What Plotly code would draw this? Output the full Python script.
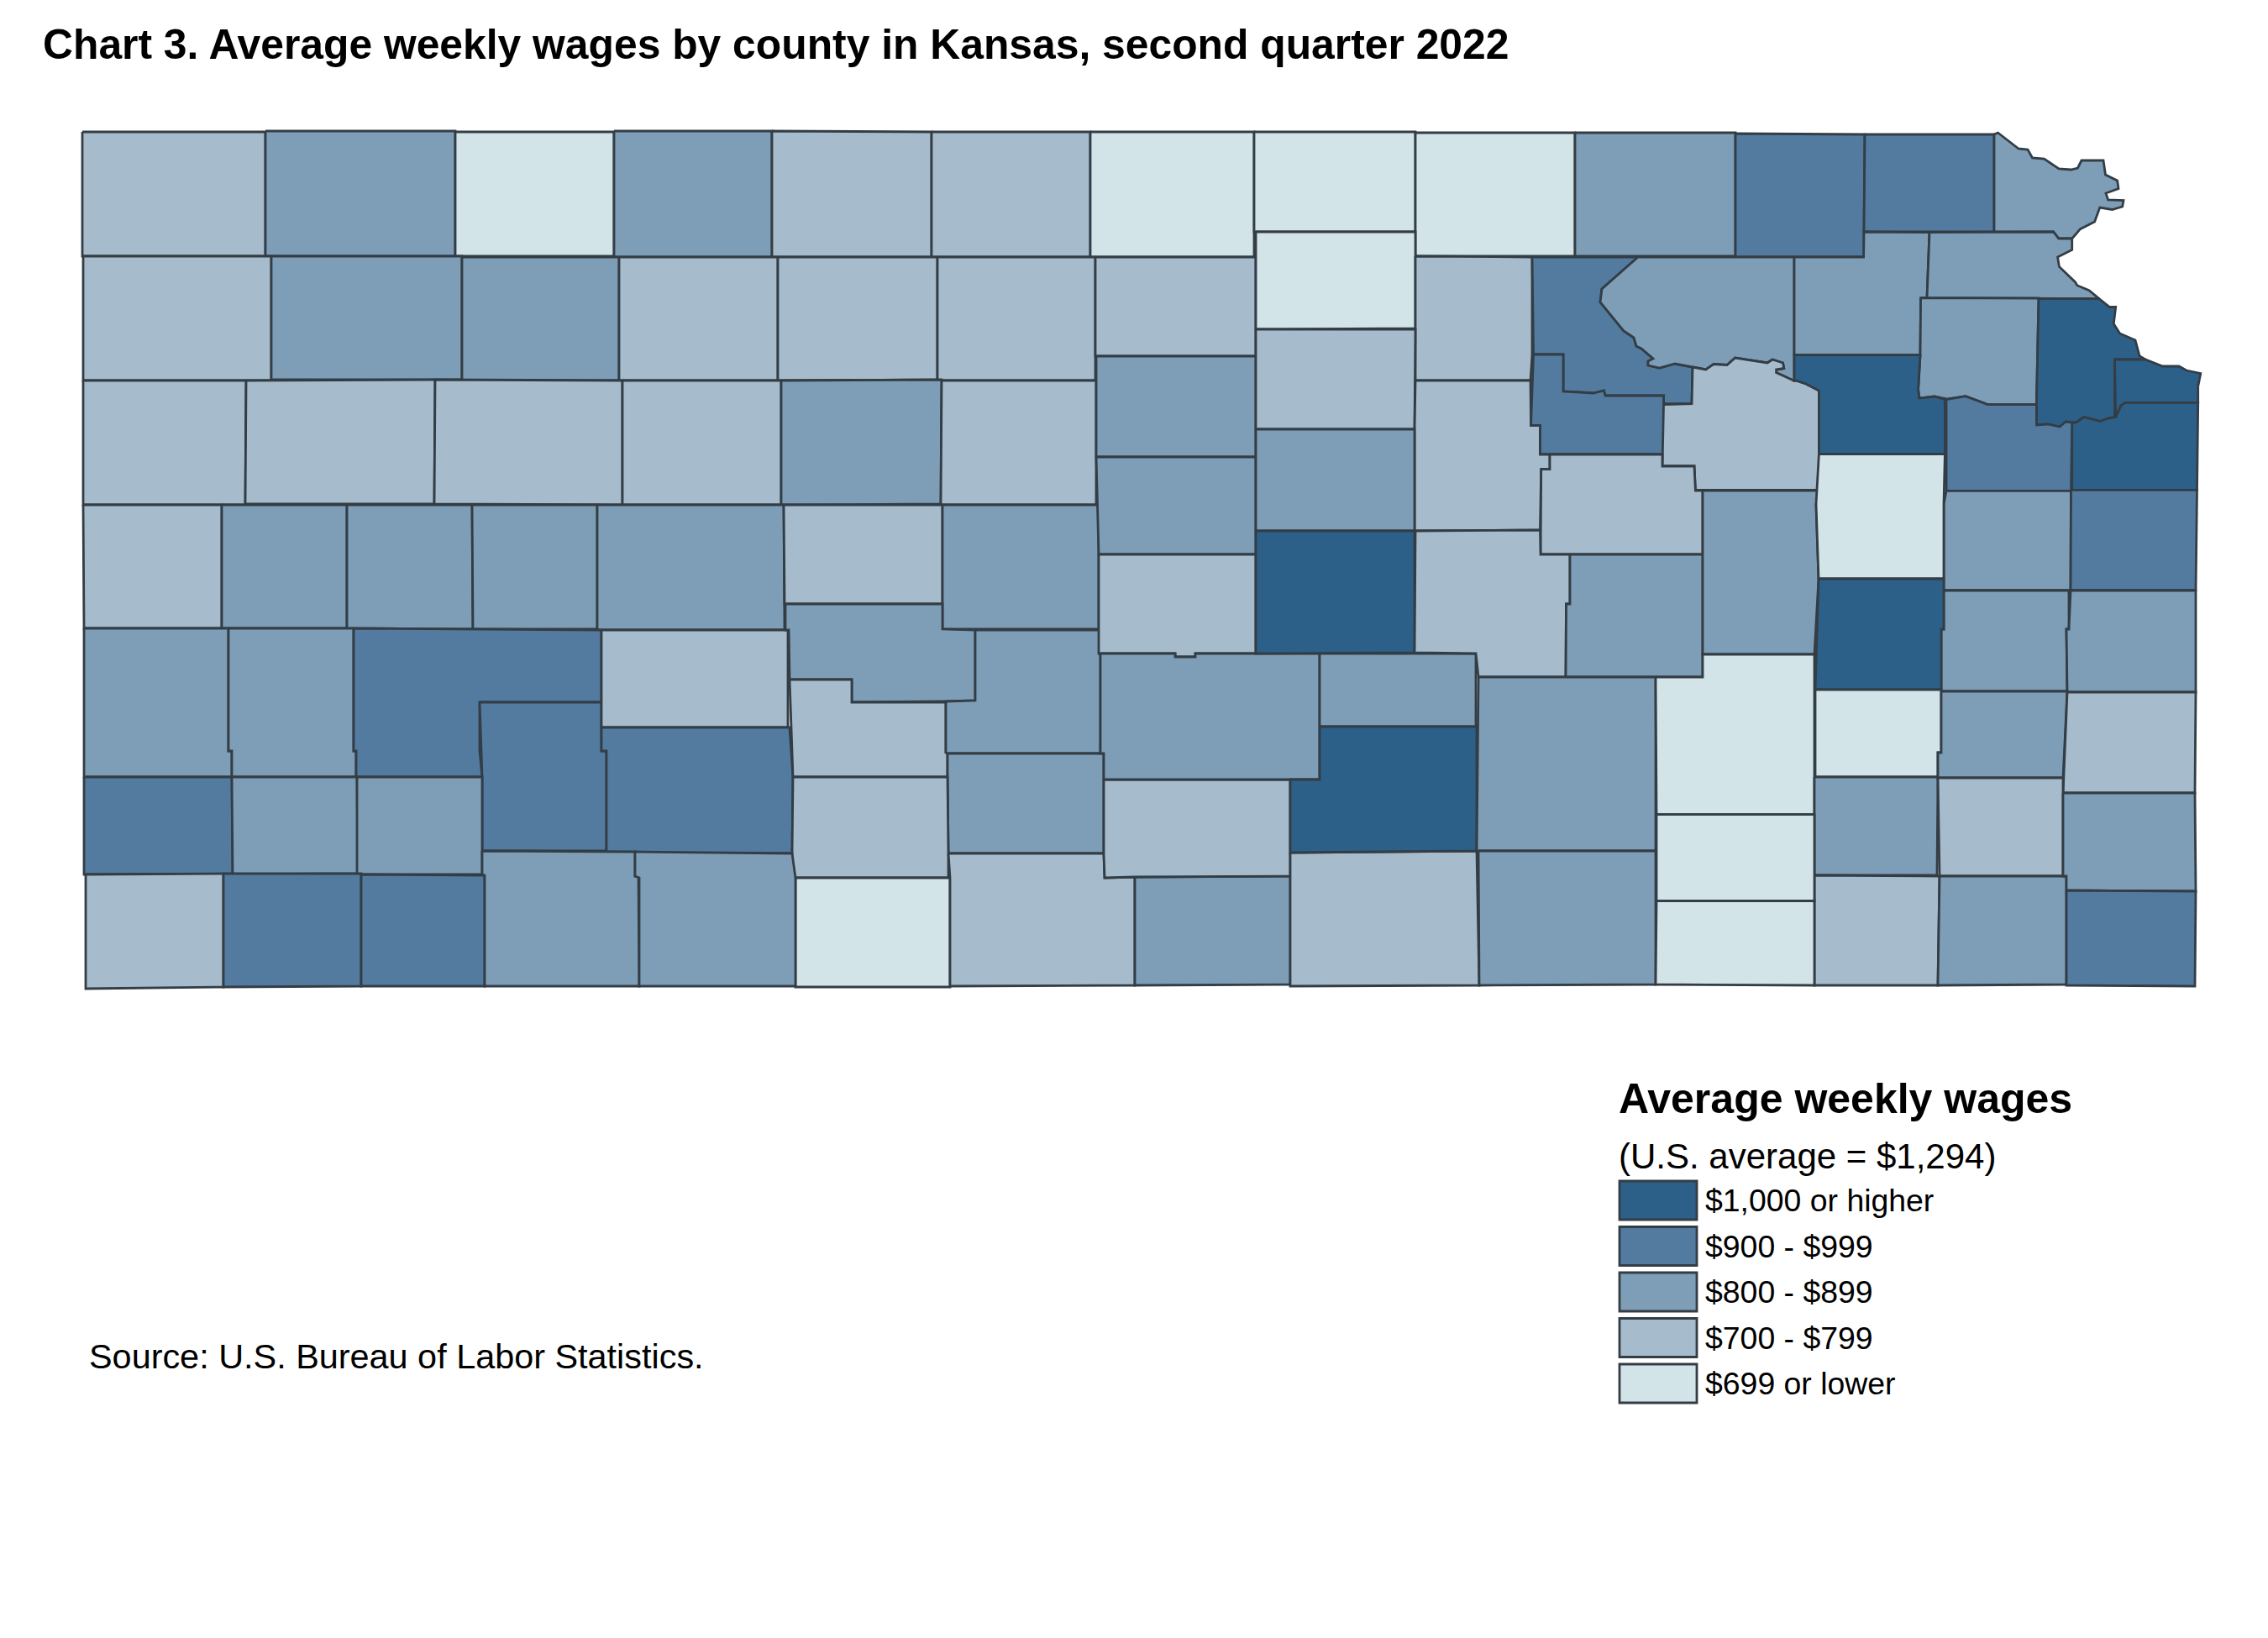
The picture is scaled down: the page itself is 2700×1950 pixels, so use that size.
import plotly.graph_objects as go

# wage class labels, darkest first
classes = ["$1,000 or higher", "$900 - $999", "$800 - $899", "$700 - $799", "$699 or lower"]
class_colors = ["#2d6088", "#537ba0", "#7e9eb7", "#a6bccc", "#d3e4e9"]

title = "Chart 3. Average weekly wages by county in Kansas, second quarter 2022"
legend_title = "Average weekly wages"
legend_note = "(U.S. average = $1,294)"
source = "Source: U.S. Bureau of Labor Statistics."

# wage class of each county, same order as county_outlines
# 0 = highest class ... 4 = lowest class
county_class = [
    3, 2, 4, 2, 3, 3, 4, 4, 4, 2, 1, 1, 2,
    3, 2, 2, 3, 3, 3, 3, 4, 3, 1, 2, 2, 2,
    3, 3, 3, 3, 2, 3, 2, 3, 3, 1, 3, 2, 0, 0, 0, 0,
    3, 2, 2, 2, 2, 3, 2, 2, 2, 3,
    2, 2, 1, 1, 3, 1, 2, 3, 2, 2, 3, 4, 3, 2, 3, 3, 2, 2, 0, 3, 3, 0, 2, 2, 2, 2,
    1, 2, 2, 3, 1, 1, 2, 2,
    1, 2, 2, 1, 4, 4, 0, 4, 2, 3, 2, 2, 3, 3, 2, 2, 1, 4, 4,
]

# county outlines in map units (river edges traced by eye)
county_outlines = [
    # top row
    [(98, 157), (316, 157), (316, 305), (98, 305)],
    [(316, 156), (542, 156), (542, 305), (316, 305)],
    [(542, 157), (731, 157), (731, 305), (542, 305)],
    [(731, 156), (919, 156), (919, 306), (731, 306)],
    [(919, 156), (1109, 157), (1109, 306), (919, 306)],
    [(1109, 157), (1298, 157), (1298, 306), (1109, 306)],
    [(1298, 157), (1493, 157), (1493, 306), (1298, 306)],
    [(1493, 157), (1685, 157), (1685, 276), (1493, 276)],
    [(1685, 158), (1875, 158), (1875, 305), (1685, 305)],
    [(1875, 158), (2066, 158), (2066, 305), (1875, 305)],
    [(2066, 159), (2220, 160), (2219, 276), (2219, 306), (2066, 306)],
    [(2220, 160), (2374, 160), (2374, 276), (2219, 276)],
    [(2374, 160), (2378.5, 158), (2403, 177), (2414, 178), (2419.5, 188), (2433.6, 189), (2451, 201),
     (2465.5, 202), (2473.5, 200), (2478, 191), (2504, 191), (2506.5, 208), (2520.6, 215), (2522, 224.6),
     (2507, 230), (2509.6, 238), (2528, 238.5), (2526.7, 246), (2514.5, 249.5), (2499.8, 247),
     (2493.6, 264), (2476.5, 272.7), (2466.7, 284), (2450.8, 284), (2444.6, 276), (2374, 276)],
    # second row
    [(99, 305), (323, 305), (323, 453), (99, 453)],
    [(323, 305), (550, 305), (550, 452), (323, 452)],
    [(550, 306), (737, 306), (737, 453), (550, 453)],
    [(737, 306), (926, 306), (926, 453), (737, 453)],
    [(926, 306), (1116, 306), (1116, 452), (926, 453)],
    [(1116, 306), (1304, 306), (1304, 453), (1116, 453)],
    [(1304, 306), (1495, 306), (1495, 424), (1304, 424)],
    [(1495, 276), (1685, 276), (1685, 391), (1495, 392)],
    [(1685, 305), (1824, 306), (1824, 422), (1822, 453), (1685, 453)],
    [(1824, 306), (1950, 306), (1907, 344), (1905, 359.6), (1932.7, 393.7), (1945, 402), (1948, 412), (1954, 415),
     (1968, 427), (1962, 430), (1962, 435), (1975.6, 438), (1994, 433), (2015, 437), (2014, 480.6),
     (1980.5, 480.6), (1980.5, 471), (1911, 471), (1909.4, 465), (1897, 468), (1861, 466), (1861, 422), (1825.5, 422)],
    [(1950, 306), (2136, 306), (2136, 453.4), (2128.7, 450), (2114.6, 443.5), (2114.6, 440), (2123.8, 438.5),
     (2122.5, 432), (2110, 428), (2104, 432), (2065.6, 426), (2056, 434.5), (2040, 433.5), (2030.7, 440), (2015, 437),
     (1994, 433), (1975.6, 438), (1962, 435), (1962, 430), (1968, 427), (1954, 415), (1948, 412), (1945, 402),
     (1932.7, 393.7), (1905, 359.6), (1907, 344)],
    [(2136, 306), (2218.6, 306), (2219, 276), (2297, 276.6), (2294, 354.6), (2286.6, 354.6), (2286, 422.6), (2136, 422.6)],
    [(2297, 276.6), (2444.6, 276), (2450.8, 284), (2466.7, 284), (2466.7, 297.5), (2449.6, 306), (2451.4, 317.4),
     (2470.4, 335.7), (2472.8, 339.7), (2487, 345.6), (2499, 355.6), (2427, 355), (2294, 354.6)],
    # third row
    [(99, 453), (293, 453), (292, 601), (99, 601)],
    [(293, 453), (518, 452), (517, 600), (292, 600)],
    [(518, 452), (741, 453), (741, 601), (517, 600)],
    [(741, 453), (930, 453), (930, 601), (741, 601)],
    [(930, 453), (1121, 452), (1120, 600), (930, 601)],
    [(1121, 453), (1305, 453), (1305, 601), (1120, 601)],
    [(1305, 424), (1495, 424), (1495, 544), (1305, 544)],
    [(1495, 392), (1685, 392), (1684, 511), (1495, 511)],
    [(1685, 453), (1822, 453), (1822.5, 506.5), (1833.5, 506.5), (1833.5, 541), (1845, 541), (1845, 558.6),
     (1834.7, 558.6), (1833.5, 631), (1684, 632), (1684, 511)],
    [(1825.5, 422), (1861, 422), (1861, 466), (1897, 468), (1909.4, 465), (1911, 471), (1980.5, 471),
     (1980.5, 540.7), (1833.5, 540.7), (1833.5, 506.5), (1822.5, 506.5)],
    [(2015, 437), (2030.7, 440), (2040, 433.5), (2056, 434.5), (2065.6, 426), (2104, 432), (2110, 428), (2122.5, 432),
     (2123.8, 438.5), (2114.6, 440), (2114.6, 443.5), (2128.7, 450), (2136, 453.4), (2138, 453), (2150, 457),
     (2165.4, 465), (2165.4, 583.4), (2018.4, 583.4), (2017, 554.6), (1979, 554.6), (1980.5, 481.6), (2014, 480.6)],
    [(2286.6, 354.6), (2427, 355), (2424.4, 481.6), (2366.3, 481.6), (2340, 471.7), (2318.5, 475), (2303, 472),
     (2284.8, 474), (2283.6, 463.4), (2286, 422.6)],
    [(2136, 422.6), (2286, 422.6), (2283.6, 463.4), (2284.8, 474), (2303, 472), (2315.4, 475.6), (2315.4, 540.7),
     (2165.4, 540.7), (2165.4, 465), (2150, 457), (2138, 453), (2136, 453.4)],
    [(2427, 355.6), (2499, 355.6), (2511.4, 365.5), (2518.7, 365.5), (2516.3, 385.4), (2523.6, 397), (2542, 405),
     (2547, 423.6), (2554, 428), (2517.5, 428), (2517.5, 496.5), (2509.6, 498), (2500.4, 501.5), (2480.8, 496.5),
     (2471.6, 503), (2459.4, 502), (2452, 508), (2437.9, 505), (2424.4, 506), (2424.4, 481.6)],
    [(2517.5, 428), (2554, 428), (2574.5, 436), (2594, 436), (2603, 441), (2619.8, 444.5), (2616.7, 460),
     (2616.7, 479.3), (2529.8, 479.3), (2525, 483), (2518.7, 496.5)],
    [(2529.8, 479.3), (2616.7, 479.3), (2615.5, 583.4), (2466.7, 583.4), (2466.7, 503), (2471.6, 503), (2480.8, 496.5),
     (2500.4, 501.5), (2509.6, 498), (2518.7, 496.5), (2525, 483)],
    # fourth row
    [(99, 601), (264, 601), (264, 748), (100, 748)],
    [(264, 601), (413, 601), (413, 748), (264, 748)],
    [(413, 601), (562, 601), (563, 749), (413, 748)],
    [(562, 601), (711, 601), (711, 749), (563, 749)],
    [(711, 601), (933, 601), (934, 750), (711, 750)],
    [(933, 601), (1122, 601), (1122, 719), (934, 719)],
    [(1122, 601), (1308, 601), (1308, 749), (1122, 749)],
    [(1305, 544), (1495, 544), (1495, 660), (1308, 660)],
    [(1495, 511), (1684, 511), (1684, 632), (1495, 632)],
    [(1845, 541), (1979, 541), (1979, 555), (2017, 555), (2018.4, 584), (2027, 584), (2027, 660), (1834, 660),
     (1834.7, 558.6), (1845, 558.6)],
    # southwest and central block
    [(100, 748), (272, 748), (272, 894), (276, 894), (276, 925), (100, 925)],
    [(272, 748), (421, 748), (421, 894), (424, 894), (424, 925), (276, 925), (276, 894), (272, 894)],
    [(421, 748), (563, 749), (716, 750), (716, 836), (571, 836), (571, 894), (574, 925), (424, 925), (424, 894), (421, 894)],
    [(571, 836), (716, 836), (716, 894), (722, 894), (722, 1013), (574, 1013), (574, 925)],
    [(716, 750), (938, 750), (938, 866), (716, 866)],
    [(716, 866), (940, 866), (944, 925), (943, 1016), (722, 1015), (722, 894), (716, 894)],
    [(935, 719), (1122, 719), (1122, 749), (1161, 750), (1161, 834), (1126, 835), (1014, 836), (1014, 809), (940, 809),
     (939, 750), (935, 750)],
    [(940, 809), (1014, 809), (1014, 836), (1126, 836), (1126, 896), (1128, 897), (1128, 925), (944, 925)],
    [(1161, 750), (1310, 750), (1310, 897), (1128, 897), (1126, 896), (1126, 835), (1161, 834)],
    [(1128, 897), (1314, 897), (1314, 1016), (1129, 1016), (1128, 925)],
    [(944, 925), (1128, 925), (1129, 1016), (1129, 1045), (943, 1045), (943, 1016)],
    [(947, 1045), (1131, 1045), (1131, 1175), (947, 1175)],
    [(1129, 1016), (1314, 1016), (1315, 1045), (1351, 1044), (1351, 1173), (1131, 1174), (1131, 1045)],
    [(1351, 1044), (1536, 1043), (1536, 1172), (1351, 1173)],
    [(1314, 928), (1536, 928), (1536, 1043), (1351, 1044), (1315, 1045), (1314, 1016)],
    [(1308, 660), (1495, 660), (1495, 778), (1423, 778), (1423, 782), (1399, 782), (1399, 778), (1308, 778)],
    [(1310, 778), (1399, 778), (1399, 782), (1423, 782), (1423, 778), (1571, 778), (1571, 928), (1314, 928), (1314, 897), (1310, 897)],
    [(1571, 778), (1757, 778), (1757, 865), (1571, 865)],
    [(1495, 632), (1684, 632), (1684, 777), (1495, 778)],
    [(1685, 632), (1833.5, 631), (1834, 660), (1869, 660), (1869, 719), (1864.5, 719), (1864, 806), (1760, 806), (1757, 778), (1684, 777)],
    [(1536, 1015), (1758, 1013), (1761, 1173), (1536, 1174)],
    [(1571, 865), (1758, 865), (1758, 1013), (1536, 1015), (1536, 928), (1571, 928)],
    [(1869, 660), (2027, 660), (2027, 806), (1864, 806), (1864.5, 719), (1869, 719)],
    [(1760, 806), (1971, 806), (1971, 1013), (1758, 1013)],
    [(1760, 1013), (1971, 1013), (1971, 1172), (1761, 1173)],
    [(2027, 584), (2165.4, 584), (2162, 600), (2165, 689), (2160, 779), (2027, 779)],
    # bottom rows, west
    [(100, 925), (276, 925), (277, 1041), (100, 1041)],
    [(276, 925), (425, 925), (426, 1040), (277, 1041)],
    [(425, 925), (574, 925), (574, 1041), (425, 1041)],
    [(102, 1041), (266, 1040), (266, 1175), (102, 1177)],
    [(266, 1040), (430, 1040), (430, 1174), (266, 1175)],
    [(430, 1041), (577, 1042), (577, 1174), (430, 1174)],
    [(574, 1013), (756, 1014), (756, 1043), (760, 1043), (761, 1174), (577, 1174), (577, 1042), (574, 1041)],
    [(756, 1014), (943, 1016), (947, 1045), (947, 1174), (761, 1174), (761, 1045), (756, 1043)],
    # east side
    [(2317, 475.6), (2340, 471.7), (2366.3, 481.6), (2424.4, 481.6), (2424.4, 506), (2437.9, 505), (2452, 508),
     (2459.4, 502), (2466.7, 503), (2465.5, 584.4), (2317, 584.4)],
    [(2317, 584.4), (2465.5, 584.4), (2465, 702.7), (2314, 702.7), (2314, 600)],
    [(2314, 703), (2463, 703), (2463, 749), (2460, 749), (2461, 823), (2311, 823), (2311, 749), (2314, 749)],
    [(2465.5, 583.4), (2615.5, 583.4), (2614, 702.7), (2465, 702.7)],
    [(2165.4, 540.7), (2315.4, 540.7), (2314, 600), (2314, 689), (2165, 689), (2162, 600)],
    [(1971, 806), (2027, 806), (2027, 779), (2160, 779), (2160, 969.6), (1972, 969.6)],
    [(2165, 689), (2314, 689), (2314, 749), (2311, 749), (2311, 821), (2161, 821)],
    [(2161, 821), (2311, 821), (2311, 896), (2307, 896), (2307, 925), (2161, 925)],
    [(2160, 925), (2307, 925), (2306, 1042), (2160, 1042)],
    [(2160, 1042), (2309, 1043), (2307, 1173), (2160, 1173)],
    [(2465, 703), (2614, 703), (2614, 824), (2461, 824), (2460, 749), (2463, 749)],
    [(2311, 823), (2461, 823), (2456, 926), (2307, 926), (2307, 896), (2311, 896)],
    [(2461, 824), (2614, 824), (2613, 944), (2456, 944)],
    [(2307, 926), (2456, 926), (2456, 1043), (2309, 1043)],
    [(2309, 1043), (2460, 1043), (2460, 1172), (2307, 1173)],
    [(2456, 944), (2613, 944), (2614, 1061), (2460, 1060), (2460, 1043), (2456, 1043)],
    [(2460, 1060), (2614, 1061), (2613, 1174), (2460, 1173)],
    [(1972, 969.6), (2160, 969.6), (2160, 1072.5), (1972, 1072.5)],
    [(1972, 1072.5), (2160, 1072.5), (2160, 1173), (1971, 1172)],
]

LINE = "#333d45"

fig = go.Figure()

for outline, cls in zip(county_outlines, county_class):
    xs = [p[0] for p in outline] + [outline[0][0]]
    ys = [p[1] for p in outline] + [outline[0][1]]
    fig.add_trace(go.Scatter(x=xs, y=ys, mode="lines", fill="toself",
                             fillcolor=class_colors[cls],
                             line=dict(color=LINE, width=2.8),
                             name=classes[cls], hoverinfo="name", showlegend=False))

# legend keys, stacked under the note
key_left, key_right = 1928, 2020
key_top, key_height, key_step = 1406, 46, 54.5
for i, (label, color) in enumerate(zip(classes, class_colors)):
    y0 = key_top + i * key_step
    fig.add_shape(type="rect", x0=key_left, x1=key_right, y0=y0, y1=y0 + key_height,
                  fillcolor=color, line=dict(color=LINE, width=2.8), xref="x", yref="y")
    fig.add_annotation(x=2028, y=y0 + key_height / 2, text=label, showarrow=False, xref="x", yref="y",
                       xanchor="left", yanchor="middle", font=dict(size=37.4, color="black"))

fig.add_annotation(x=49, y=53, text="<b>" + title + "</b>", showarrow=False, xref="x", yref="y",
                   xanchor="left", yanchor="middle", font=dict(size=49.8, color="black"))
fig.add_annotation(x=1925, y=1308, text="<b>" + legend_title + "</b>", showarrow=False, xref="x", yref="y",
                   xanchor="left", yanchor="middle", font=dict(size=50, color="black"))
fig.add_annotation(x=1925, y=1376, text=legend_note, showarrow=False, xref="x", yref="y",
                   xanchor="left", yanchor="middle", font=dict(size=42, color="black"))
fig.add_annotation(x=104, y=1615, text=source, showarrow=False, xref="x", yref="y",
                   xanchor="left", yanchor="middle", font=dict(size=41.4, color="black"))

fig.update_xaxes(range=[0, 2700], visible=False)
fig.update_yaxes(range=[1950, 0], visible=False)
fig.update_layout(width=2700, height=1950, margin=dict(l=0, r=0, t=0, b=0),
                  plot_bgcolor="white", paper_bgcolor="white",
                  font=dict(family="Liberation Sans"))

fig.write_html("out.html", config={"displayModeBar": False},
               post_script="document.body.style.margin='0';")
